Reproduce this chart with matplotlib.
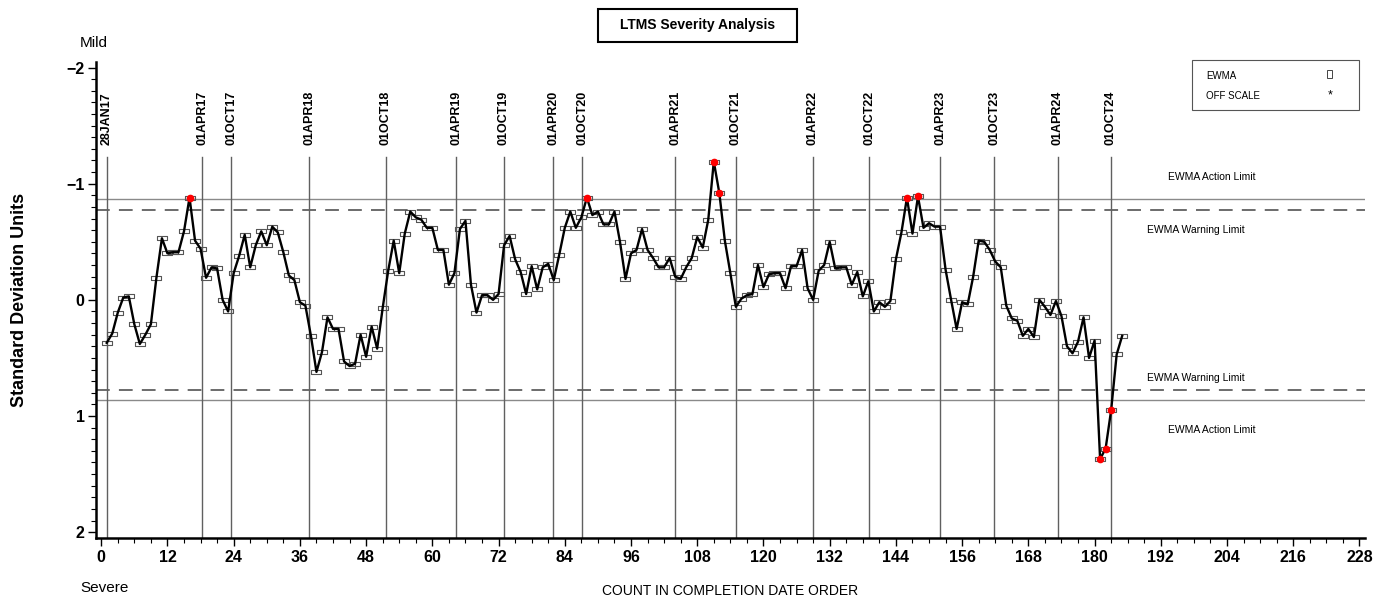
import matplotlib
matplotlib.use('Agg')
import matplotlib.pyplot as plt
from matplotlib.patches import Rectangle
from matplotlib.ticker import MultipleLocator, FixedLocator
import numpy as np

plt.rcParams['font.family'] = ['Liberation Sans', 'DejaVu Sans']

# EWMA severity values (standard deviation units), tests 1..185
ewma = [0.37, 0.29, 0.11, -0.02, -0.03, 0.21, 0.38, 0.30, 0.21, -0.19,
        -0.53, -0.40, -0.41, -0.41, -0.59, -0.88, -0.51, -0.44, -0.19, -0.28,
        -0.27, 0.00, 0.10, -0.23, -0.38, -0.56, -0.28, -0.47, -0.59, -0.47,
        -0.63, -0.58, -0.41, -0.21, -0.17, 0.02, 0.05, 0.31, 0.62, 0.45,
        0.15, 0.25, 0.25, 0.53, 0.57, 0.55, 0.30, 0.49, 0.23, 0.42,
        0.07, -0.25, -0.51, -0.23, -0.57, -0.76, -0.71, -0.69, -0.62, -0.62,
        -0.43, -0.43, -0.13, -0.23, -0.61, -0.68, -0.13, 0.11, -0.04, -0.04,
        0.00, -0.05, -0.47, -0.55, -0.35, -0.24, -0.05, -0.29, -0.09, -0.28,
        -0.31, -0.17, -0.39, -0.62, -0.76, -0.62, -0.71, -0.88, -0.73, -0.76,
        -0.65, -0.65, -0.76, -0.50, -0.18, -0.40, -0.43, -0.61, -0.43, -0.36,
        -0.28, -0.28, -0.36, -0.20, -0.18, -0.28, -0.36, -0.54, -0.45, -0.69,
        -1.19, -0.92, -0.51, -0.23, 0.06, -0.01, -0.04, -0.05, -0.30, -0.11,
        -0.22, -0.23, -0.23, -0.10, -0.29, -0.29, -0.43, -0.10, 0.00, -0.25,
        -0.30, -0.50, -0.27, -0.28, -0.28, -0.13, -0.24, -0.03, -0.16, 0.10,
        0.02, 0.06, 0.01, -0.35, -0.58, -0.88, -0.57, -0.89, -0.62, -0.66,
        -0.63, -0.63, -0.26, 0.00, 0.25, 0.02, 0.04, -0.20, -0.51, -0.50,
        -0.43, -0.33, -0.28, 0.05, 0.16, 0.18, 0.31, 0.25, 0.32, 0.00,
        0.06, 0.13, 0.01, 0.14, 0.40, 0.46, 0.36, 0.15, 0.50, 0.35,
        1.37, 1.28, 0.95, 0.47, 0.31]

date_labels = ['28JAN17', '01APR17', '01OCT17', '01APR18', '01OCT18', '01APR19',
               '01OCT19', '01APR20', '01OCT20', '01APR21', '01OCT21', '01APR22',
               '01OCT22', '01APR23', '01OCT23', '01APR24', '01OCT24']
date_counts = [1.0, 18.3, 23.6, 37.7, 51.6, 64.3, 72.9, 81.9, 87.2, 104.0,
               115.0, 128.9, 139.2, 152.0, 161.8, 173.3, 182.9]

action_limit = 0.866
warning_limit = 0.775

W, H = 1379, 601
fig = plt.figure(figsize=(W / 100, H / 100), dpi=100)
L, R, T, B = 95.7, 1365, 61.7, 538
ax = fig.add_axes([L / W, 1 - B / H, (R - L) / W, (B - T) / H])

x = np.arange(1, len(ewma) + 1)
y = np.array(ewma)

ax.set_xlim(-1, 229)
ax.set_ylim(2.05, -2.05)

# limit lines
for s in (-1, 1):
    ax.axhline(s * action_limit, color='#8a8a8a', lw=1.0, zorder=1)
    ax.axhline(s * warning_limit, color='#444444', lw=1.1, ls=(0, (9, 6)), zorder=1)

# date reference lines
for c, lab in zip(date_counts, date_labels):
    ax.plot([c, c], [-1.23, 2.05], color='#606060', lw=1.0, zorder=1)
    ax.text(c, -1.33, lab, rotation=90, ha='center', va='bottom',
            fontsize=9, fontweight='bold', color='black')

# markers and line
box = [(-1, -0.4), (1, -0.4), (1, 0.4), (-1, 0.4), (-1, -0.4)]
ax.plot(x, y, ls='none', marker=box, ms=7.5, mfc='none', mec='#555555', mew=0.8, zorder=2)
ax.plot(x, y, color='black', lw=1.7, zorder=3)
off = np.abs(y) > action_limit
ax.plot(x[off], y[off], ls='none', marker='o', ms=4.5, mfc='red', mec='red', zorder=4)

# limit labels
ax.text(201.3, -1.06, 'EWMA Action Limit', ha='center', va='center', fontsize=7.5)
ax.text(198.4, -0.60, 'EWMA Warning Limit', ha='center', va='center', fontsize=7.5)
ax.text(198.4, 0.67, 'EWMA Warning Limit', ha='center', va='center', fontsize=7.5)
ax.text(201.3, 1.12, 'EWMA Action Limit', ha='center', va='center', fontsize=7.5)

# axes styling
for sp in ('top', 'right'):
    ax.spines[sp].set_visible(False)
for sp in ('left', 'bottom'):
    ax.spines[sp].set_linewidth(1.8)
ax.xaxis.set_major_locator(MultipleLocator(12))
ax.xaxis.set_minor_locator(MultipleLocator(3))
ax.yaxis.set_major_locator(FixedLocator([-2, -1, 0, 1, 2]))
ax.yaxis.set_minor_locator(MultipleLocator(0.1))
ax.tick_params(axis='both', which='major', direction='out', length=6, width=1.0, labelsize=11.5)
ax.tick_params(axis='both', which='minor', direction='out', length=3.5, width=0.8)
ax.tick_params(axis='y', pad=2)
ax.tick_params(axis='x', pad=3)
for lbl in ax.get_xticklabels() + ax.get_yticklabels():
    lbl.set_fontweight('bold')

# axis titles
fig.text(20 / W, 1 - 300 / H, 'Standard Deviation Units', rotation=90, ha='center', va='center',
         fontsize=13, fontweight='bold')
fig.text(730 / W, 1 - 591 / H, 'COUNT IN COMPLETION DATE ORDER', ha='center', va='center',
         fontsize=10)
fig.text(80 / W, 1 - 43 / H, 'Mild', ha='left', va='center', fontsize=11)
fig.text(80 / W, 1 - 588 / H, 'Severe', ha='left', va='center', fontsize=11)

# title box
fig.patches.append(Rectangle((598 / W, 1 - 42 / H), 199 / W, 33 / H, transform=fig.transFigure,
                             fill=False, ec='black', lw=1.5))
fig.text(697.5 / W, 1 - 25.5 / H, 'LTMS Severity Analysis', ha='center', va='center',
         fontsize=10, fontweight='bold')

# legend box
fig.patches.append(Rectangle((1192 / W, 1 - 110 / H), 167 / W, 50 / H, transform=fig.transFigure,
                             fill=False, ec='#555555', lw=0.8))
fig.text(1206 / W, 1 - 76 / H, 'EWMA', ha='left', va='center', fontsize=7)
fig.text(1206 / W, 1 - 96 / H, 'OFF SCALE', ha='left', va='center', fontsize=7)
fig.patches.append(Rectangle((1327 / W, 1 - 78 / H), 5 / W, 8 / H, transform=fig.transFigure,
                             fill=False, ec='#444444', lw=0.7))
fig.text(1330 / W, 1 - 95 / H, '*', ha='center', va='center', fontsize=9)

fig.savefig('out.png', dpi=100)
